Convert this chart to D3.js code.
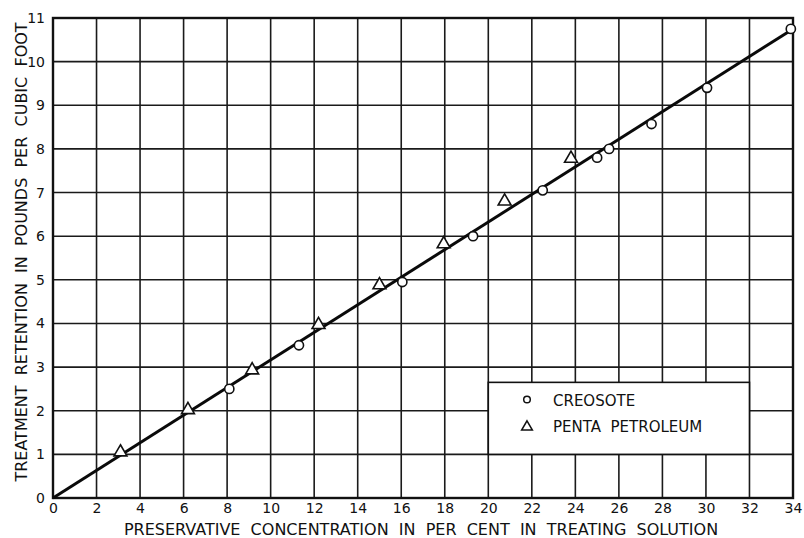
<!DOCTYPE html>
<html>
<head>
<meta charset="utf-8">
<script src="https://cdn.jsdelivr.net/npm/d3@7"></script>
<style>
  html, body { margin: 0; padding: 0; background: #fff; }
  svg { display: block; }
  text { font-family: "DejaVu Sans", "Liberation Sans", sans-serif; fill: #111; }
</style>
</head>
<body>
<svg id="chart" width="804" height="538"></svg>
<script>
// ---- Data ----
const creosoteX = [8.1, 11.3, 16.05, 19.3, 22.5, 25.0, 25.55, 27.5, 30.05, 33.9];
const creosoteY = [2.5, 3.5, 4.95, 6.0, 7.05, 7.8, 8.0, 8.57, 9.4, 10.75];
const pentaX = [3.1, 6.2, 9.15, 12.2, 15.0, 17.95, 20.75, 23.8];
const pentaY = [1.05, 2.02, 2.93, 3.97, 4.88, 5.82, 6.8, 7.78];
const fitLineX = [0, 34];
const fitLineY = [0, 10.75];
const xTicks = [0, 2, 4, 6, 8, 10, 12, 14, 16, 18, 20, 22, 24, 26, 28, 30, 32, 34];
const yTicks = [0, 1, 2, 3, 4, 5, 6, 7, 8, 9, 10, 11];
const legendLabels = ["CREOSOTE", "PENTA  PETROLEUM"];
const xTitle = "PRESERVATIVE  CONCENTRATION  IN  PER  CENT  IN  TREATING  SOLUTION";
const yTitle = "TREATMENT  RETENTION  IN  POUNDS  PER  CUBIC  FOOT";

// ---- Layout ----
const svg = d3.select("#chart");
const mLeft = 53, mRight = 793, mTop = 18, mBottom = 498;
const x = d3.scaleLinear().domain([0, 34]).range([mLeft, mRight]);
const y = d3.scaleLinear().domain([0, 11]).range([mBottom, mTop]);

// Grid
const grid = svg.append("g");
grid.selectAll("line.v").data(xTicks).join("line").attr("class", "v")
  .attr("x1", d => x(d)).attr("x2", d => x(d))
  .attr("y1", mTop).attr("y2", mBottom)
  .attr("stroke", "#1a1a1a").attr("stroke-width", 1.6);
grid.selectAll("line.h").data(yTicks).join("line").attr("class", "h")
  .attr("x1", mLeft).attr("x2", mRight)
  .attr("y1", d => y(d)).attr("y2", d => y(d))
  .attr("stroke", "#1a1a1a").attr("stroke-width", 1.6);

// Frame
svg.append("rect").attr("x", mLeft).attr("y", mTop)
  .attr("width", mRight - mLeft).attr("height", mBottom - mTop)
  .attr("fill", "none").attr("stroke", "#111").attr("stroke-width", 2.4);

// Axes (tick labels only, via d3 axes)
const xAxis = svg.append("g").attr("transform", `translate(0,${mBottom})`)
  .call(d3.axisBottom(x).tickValues(xTicks).tickSize(0).tickPadding(5).tickFormat(d3.format("d")));
xAxis.select(".domain").remove();
xAxis.selectAll("text").style("font-size", "14px").attr("fill", "#111")
  .style("font-family", "DejaVu Sans, sans-serif");

const yAxis = svg.append("g").attr("transform", `translate(${mLeft},0)`)
  .call(d3.axisLeft(y).tickValues(yTicks).tickSize(0).tickPadding(8).tickFormat(d3.format("d")));
yAxis.select(".domain").remove();
yAxis.selectAll("text").style("font-size", "14px").attr("fill", "#111")
  .style("font-family", "DejaVu Sans, sans-serif");

// Legend box (white, masks grid)
const lgX0 = 20, lgX1 = 32, lgY0 = 1, lgY1 = 2.65;
svg.append("rect")
  .attr("x", x(lgX0)).attr("y", y(lgY1))
  .attr("width", x(lgX1) - x(lgX0)).attr("height", y(lgY0) - y(lgY1))
  .attr("fill", "#fff").attr("stroke", "#111").attr("stroke-width", 1.6);

// Fit line
const line = d3.line().x(d => x(d[0])).y(d => y(d[1]));
svg.append("path").datum(d3.zip(fitLineX, fitLineY))
  .attr("d", line).attr("stroke", "#0a0a0a").attr("stroke-width", 3).attr("fill", "none");

// Markers
const creo = d3.zip(creosoteX, creosoteY);
const penta = d3.zip(pentaX, pentaY);
svg.append("g").selectAll("circle").data(creo).join("circle")
  .attr("cx", d => x(d[0])).attr("cy", d => y(d[1])).attr("r", 4.6)
  .attr("fill", "#fff").attr("stroke", "#111").attr("stroke-width", 1.6);
const tri = d3.symbol().type(d3.symbolTriangle).size(72);
svg.append("g").selectAll("path").data(penta).join("path")
  .attr("d", tri).attr("transform", d => `translate(${x(d[0])},${y(d[1])})`)
  .attr("fill", "#fff").attr("stroke", "#111").attr("stroke-width", 1.6);

// Legend content
const lg = svg.append("g");
lg.append("circle").attr("cx", 527).attr("cy", 399.5).attr("r", 3.3)
  .attr("fill", "#fff").attr("stroke", "#111").attr("stroke-width", 1.5);
lg.append("path").attr("d", d3.symbol().type(d3.symbolTriangle).size(50))
  .attr("transform", "translate(527,427)")
  .attr("fill", "#fff").attr("stroke", "#111").attr("stroke-width", 1.5);
lg.selectAll("text").data(legendLabels).join("text")
  .attr("x", 553).attr("y", (d, i) => 406 + i * 26)
  .style("font-size", "15px").style("white-space", "pre")
  .attr("xml:space", "preserve")
  .text(d => d);

// Axis titles
svg.append("text").attr("x", 421).attr("y", 535).attr("text-anchor", "middle")
  .style("font-size", "16px").attr("xml:space", "preserve").style("white-space", "pre")
  .text(xTitle);
svg.append("text").attr("transform", "translate(27,252) rotate(-90)").attr("text-anchor", "middle")
  .style("font-size", "16px").attr("xml:space", "preserve").style("white-space", "pre")
  .text(yTitle);
</script>
</body>
</html>
